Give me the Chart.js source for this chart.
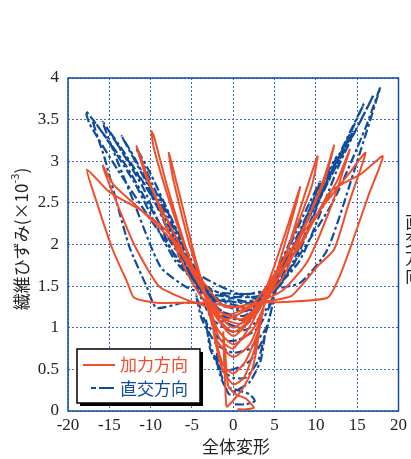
<html>
<head>
<meta charset="utf-8">
<title>繊維ひずみ</title>
<style>
  body { margin: 0; background: #fff; }
  #wrap { width: 411px; height: 459px; }
</style>
</head>
<body>
<div id="wrap"><canvas id="chart" width="411" height="459"></canvas></div>
<script src="https://cdn.jsdelivr.net/npm/chart.js"></script>
<script>
// 加力方向 (solid orange)
var kaX = [0.5,1.5,2.5,1.5,0.3,-0.6,-0.9,-1.2,-1.1,-0.9,-0.8,
  0.2,1.2,2.3,3.0,3.3,2.6,1.3,0,-1.3,-2.2,-2.7,-2.1,-1.2,
  0,1.5,3,4,3.4,2,0,-2,-3.3,-3.8,-3,-1.5,
  0,2.5,5,7,8.1,7.5,5,2.5,0,
  -2,-4.5,-6.5,-7.8,-7.3,-5,-2.5,0,
  2.5,5,6.2,8,10.2,9.5,6,3,0,
  -2.5,-5,-8,-9.6,-9.9,-9.6,-7.5,-5,-2.5,0,
  3,6,9,11,12.2,11,7,4,1,
  -2,-5,-8,-10.5,-11.7,-10.5,-7,-4,-1,
  3,6,9,12,14.1,12.5,8,4,1,
  -3,-6,-9,-12,-14.5,-15.8,-14.5,-11,-7,-4,-1,
  3,7,10.2,12.2,14,16,14,10,6,2,
  -3,-6,-9.3,-12,-12.8,-14.6,-16.5,-17.7,-15,-11,-7.8,-4,-1,
  3,6.2,11.4,12.8,14.1,16.4,18.1,15.5,11.7,8.1,5,2.5];
var kaY = [0.02,0.02,0.04,0.15,0.2,0.3,0.6,0.95,0.6,0.15,0.05,
  0.15,0.28,0.5,0.85,1.1,0.75,0.4,0.32,0.5,0.85,1.2,0.85,0.55,
  0.45,0.6,0.95,1.4,1.15,0.8,0.65,0.85,1.35,1.6,1.2,0.85,
  0.75,1.1,1.75,2.35,2.69,2.45,1.6,1.0,0.8,
  1.0,1.8,2.6,3.1,2.8,1.9,1.2,0.9,
  1.15,1.6,1.82,2.4,3.06,2.7,1.8,1.2,0.95,
  1.2,1.75,2.7,3.3,3.36,3.15,2.45,1.75,1.25,1.0,
  1.25,1.6,2.3,2.8,3.19,2.75,1.9,1.35,1.05,
  1.15,1.55,2.2,2.85,3.18,2.8,2.1,1.5,1.1,
  1.3,1.45,1.8,2.5,3.14,2.75,2.0,1.4,1.1,
  1.25,1.35,1.5,2.0,2.6,2.95,2.72,2.4,2.0,1.5,1.15,
  1.3,1.38,1.74,1.94,2.5,3.1,2.85,2.35,1.8,1.25,
  1.3,1.3,1.3,1.36,1.54,1.94,2.5,2.9,2.63,2.4,2.14,1.6,1.25,
  1.3,1.31,1.36,1.6,1.94,2.6,3.06,2.85,2.63,1.98,1.6,1.3];

// 直交方向 (dash-dot blue)
var chX = [0.2,1.5,2.6,2,0.5,-1,-1.8,-2,-1.5,-0.5,
  0.5,2,3.3,3.8,3,1.5,0,-1.5,-2.8,-3.3,-2.8,-1.5,
  0,2,3.8,4.8,4,2,0,-2,-3.8,-4.5,-3.5,-1.5,
  0.5,3,5,6,4.5,2,0,-2.5,-4.5,-5.5,-4,-1.5,
  1,3,5.5,8,6.5,4,1.5,
  -1.5,-4,-7,-9,-7.5,-5,-2,
  1,4,7.5,10.5,8.5,5,1.5,
  -1.5,-5,-9,-11.7,-10,-6,-2.5,
  1.5,5,9,12.5,10.5,6.5,2,
  -2,-6,-10,-13.5,-12,-8,-3,
  2,6,10.5,14.5,12.5,8,3,
  -2.5,-7,-11,-15,-13.5,-9,-4,
  2.5,7,11.5,15.8,14,9,3.5,
  -3,-5.7,-8.8,-12,-15.8,-14,-10,-5,
  3,8,13,17,15.5,10,4,
  -3,-7,-12,-17,-15.6,-12.6,-10.5,-9.3,-6,-3,
  4,8.1,11.4,15,17.8,16,12,6,2,
  -3,-8,-13,-17.8,-17.4,-14,-10,-5,-1];
var chY = [0.08,0.08,0.12,0.2,0.25,0.3,0.5,0.7,0.45,0.2,
  0.25,0.35,0.6,0.9,0.6,0.4,0.4,0.5,0.8,1.1,0.75,0.5,
  0.5,0.6,0.9,1.3,1.0,0.75,0.7,0.8,1.1,1.4,1.1,0.85,
  0.85,1.0,1.4,1.8,1.3,1.0,0.95,1.1,1.5,1.9,1.4,1.1,
  1.0,1.2,1.7,2.3,1.95,1.4,1.1,
  1.15,1.5,2.15,2.6,2.3,1.75,1.25,
  1.1,1.35,2.0,2.75,2.35,1.6,1.15,
  1.2,1.6,2.55,3.15,2.85,2.0,1.35,
  1.2,1.45,2.3,3.05,2.7,1.85,1.25,
  1.3,1.75,2.65,3.3,3.05,2.3,1.4,
  1.25,1.55,2.55,3.35,3.0,2.1,1.35,
  1.35,1.85,2.7,3.36,3.15,2.45,1.55,
  1.3,1.7,2.8,3.69,3.3,2.3,1.4,
  1.4,1.49,1.73,2.5,3.47,3.2,2.6,1.7,
  1.35,1.8,3.0,3.8,3.5,2.5,1.45,
  1.45,1.8,2.75,3.5,3.05,1.98,1.5,1.24,1.3,1.3,
  1.45,1.54,1.94,3.0,3.89,3.4,2.5,1.6,1.3,
  1.4,2.1,2.95,3.6,3.45,2.9,2.3,1.6,1.25];

var seriesNames = ['加力方向', '直交方向'];
var xTitle = '全体変形';
var yTitle = '繊維ひずみ(×10';
var ySup = '-3';

var orange = '#f04e2b';
var blue = '#0f4c9e';

function pts(xs, ys) {
  var out = [];
  for (var i = 0; i < xs.length; i++) out.push({ x: xs[i], y: ys[i] });
  return out;
}

var overlay = {
  id: 'overlay',
  beforeDatasetsDraw: function (chart) {
    var ctx = chart.ctx, a = chart.chartArea;
    ctx.save();
    ctx.setLineDash([]);
    ctx.strokeStyle = blue;
    ctx.lineWidth = 1.5;
    ctx.strokeRect(a.left, a.top, a.right - a.left, a.bottom - a.top);
    ctx.restore();
  },
  afterDraw: function (chart) {
    var ctx = chart.ctx;
    var cjk = "'Noto Sans CJK JP', 'Noto Sans', sans-serif";
    ctx.save();
    // legend box with shadow
    ctx.fillStyle = '#000';
    ctx.fillRect(80, 352, 123, 54);
    ctx.fillStyle = '#fff';
    ctx.fillRect(77, 349, 123, 54);
    ctx.strokeStyle = '#000';
    ctx.lineWidth = 1.5;
    ctx.strokeRect(77, 349, 123, 54);

    ctx.lineWidth = 2;
    ctx.strokeStyle = orange;
    ctx.beginPath(); ctx.moveTo(83, 365); ctx.lineTo(115, 365); ctx.stroke();
    ctx.lineWidth = 2.2;
    ctx.strokeStyle = blue;
    ctx.setLineDash([5, 3, 15, 3]);
    ctx.beginPath(); ctx.moveTo(91, 388); ctx.lineTo(116, 388); ctx.stroke();
    ctx.setLineDash([]);

    ctx.font = '17px ' + cjk;
    ctx.textBaseline = 'middle';
    ctx.textAlign = 'left';
    ctx.fillStyle = orange;
    ctx.fillText(seriesNames[0], 120, 365);
    ctx.fillStyle = blue;
    ctx.fillText(seriesNames[1], 120, 389);

    // x title
    ctx.fillStyle = '#222';
    ctx.textAlign = 'center';
    ctx.fillText(xTitle, 236, 447);

    // y title with superscript
    ctx.save();
    ctx.translate(22, 239);
    ctx.rotate(-Math.PI / 2);
    ctx.font = '17px ' + cjk;
    var w1 = ctx.measureText(yTitle).width;
    ctx.font = '11px ' + cjk;
    var w2 = ctx.measureText(ySup).width;
    ctx.font = '17px ' + cjk;
    var w3 = ctx.measureText(')').width;
    var x0 = -(w1 + w2 + w3) / 2;
    ctx.textAlign = 'left';
    ctx.fillText(yTitle, x0, 0);
    ctx.font = '11px ' + cjk;
    ctx.fillText(ySup, x0 + w1, -7);
    ctx.font = '17px ' + cjk;
    ctx.fillText(')', x0 + w1 + w2, 0);
    ctx.restore();

    // clipped label at right edge
    ctx.font = '17px ' + cjk;
    ctx.textAlign = 'left';
    var side = seriesNames[1];
    for (var i = 0; i < side.length; i++) {
      ctx.fillText(side[i], 405, 222 + i * 18);
    }
    ctx.restore();
  }
};

var tickFont = { family: "'Liberation Serif', 'Times New Roman', serif", size: 17 };

new Chart(document.getElementById('chart').getContext('2d'), {
  type: 'scatter',
  data: {
    datasets: [{
      label: seriesNames[0],
      data: pts(kaX, kaY),
      showLine: true,
      borderColor: orange,
      borderWidth: 2,
      pointRadius: 0,
      tension: 0.2
    }, {
      label: seriesNames[1],
      data: pts(chX, chY),
      showLine: true,
      borderColor: blue,
      borderWidth: 2.2,
      borderDash: [9, 3, 3, 3],
      pointRadius: 0,
      tension: 0.2
    }]
  },
  options: {
    responsive: false,
    animation: false,
    layout: { padding: { top: 78, right: 9, left: 0, bottom: 0 } },
    plugins: { legend: { display: false }, tooltip: { enabled: false } },
    scales: {
      x: {
        min: -20, max: 20,
        ticks: { stepSize: 5, font: tickFont, color: '#222', padding: 4, maxRotation: 0 },
        grid: { color: '#3a6cc0', lineWidth: 1, drawTicks: false },
        border: { display: false, dash: [2, 2] },
        afterFit: function (s) { s.height = 48; }
      },
      y: {
        min: 0, max: 4,
        ticks: {
          stepSize: 0.5, font: tickFont, color: '#222', padding: 9,
          callback: function (v) { return String(v); }
        },
        grid: { color: '#3a6cc0', lineWidth: 1, drawTicks: false },
        border: { display: false, dash: [2, 2] },
        afterFit: function (s) { s.width = 68; }
      }
    }
  },
  plugins: [overlay]
});
</script>
</body>
</html>
